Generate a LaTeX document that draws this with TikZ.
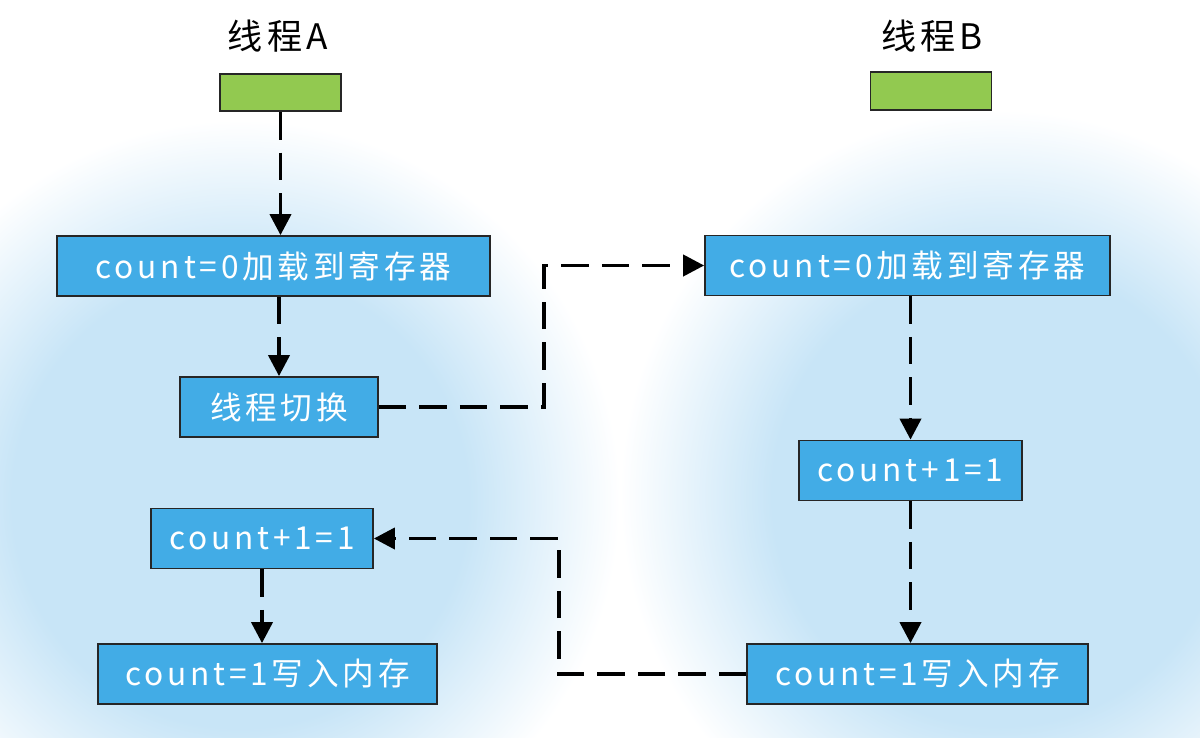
\documentclass[tikz,border=0pt]{standalone}
\usepackage{fontspec}
\setmainfont[LetterSpace=12]{Noto Sans CJK SC}
\usetikzlibrary{arrows.meta}
\definecolor{boxblue}{RGB}{66,172,230}
\definecolor{startgreen}{RGB}{146,201,80}
\definecolor{glowblue}{RGB}{200,229,247}
\pgfdeclareradialshading{glow}{\pgfpoint{0bp}{0bp}}{%
  color(0bp)=(glowblue); color(15bp)=(glowblue);
  color(25bp)=(white); color(50bp)=(white)}
\tikzset{
  step box/.style={draw=black!85, line width=1pt, fill=boxblue, text=white,
    minimum height=1.2cm, inner sep=0pt, font=\fontsize{18}{21}\selectfont},
  start box/.style={draw=black!85, line width=1pt, fill=startgreen,
    minimum width=2.42cm, minimum height=0.75cm},
  title/.style={font=\fontsize{20}{24}\selectfont},
  flow/.style={line width=2.2pt, dash pattern=on 0.55cm off 0.26cm,
    -{Triangle[length=0.42cm,width=0.42cm]}}
}

\begin{document}
\begin{tikzpicture}[x=0.02cm, y=-0.02cm]
    \useasboundingbox (0,0) rectangle (1200,737);
    % soft background behind each thread
    \shade[shading=glow] (620,110) rectangle (1380,880);
    \shade[shading=glow] (-140,120) rectangle (620,880);

    % thread A
    \node[title] (titleA) at (278,36) {线程A};
    \node[start box] (startA) at (280.5,92.5) {};
    \node[step box, minimum width=8.66cm] (loadA) at (273.5,266) {count=0加载到寄存器};
    \node[step box, minimum width=3.96cm] (switchA) at (279,407) {线程切换};
    \node[step box, minimum width=4.44cm] (addA) at (262,538.5) {count+1=1};
    \node[step box, minimum width=6.78cm] (storeA) at (267.5,674) {count=1写入内存};

    % thread B
    \node[title] (titleB) at (932,36) {线程B};
    \node[start box] (startB) at (931,91) {};
    \node[step box, minimum width=8.1cm] (loadB) at (907.5,265.5) {count=0加载到寄存器};
    \node[step box, minimum width=4.46cm] (addB) at (910.5,470.5) {count+1=1};
    \node[step box, minimum width=6.82cm] (storeB) at (917.5,674) {count=1写入内存};

    % arrows
    \draw[flow] (startA.south) -- (startA.south |- loadA.north);
    \draw[flow] (switchA.north |- loadA.south) -- (switchA.north);
    \draw[flow] (switchA.east) -- ++(165,0) |- (loadB.west);
    \draw[flow] (addB.north |- loadB.south) -- (addB.north);
    \draw[flow] (addB.south) -- (addB.south |- storeB.north);
    \draw[flow] (storeB.west) -- ++(-187,0) |- (addA.east);
    \draw[flow] (addA.south) -- (addA.south |- storeA.north);
\end{tikzpicture}
\end{document}
